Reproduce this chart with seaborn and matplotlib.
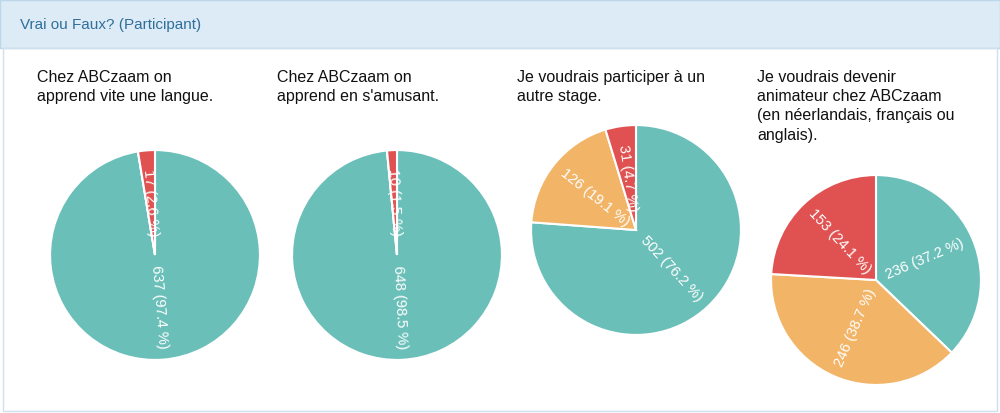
import matplotlib.pyplot as plt
import matplotlib.patches as mpatches
import seaborn as sns

sns.set_theme(style="white")
plt.rcParams['font.family'] = ['Liberation Sans', 'DejaVu Sans']

titles = [
    "Chez ABCzaam on\napprend vite une langue.",
    "Chez ABCzaam on\napprend en s'amusant.",
    "Je voudrais participer à un\nautre stage.",
    "Je voudrais devenir\nanimateur chez ABCzaam\n(en néerlandais, français ou\nanglais).",
]
vrai = [637, 648, 502, 236]
peut_etre = [0, 0, 126, 246]
faux = [17, 10, 31, 153]
pcts = [
    [97.4, 0, 2.6],
    [98.5, 0, 1.5],
    [76.2, 19.1, 4.7],
    [37.2, 38.7, 24.1],
]
colors = ["#6bbfb9", "#f2b466", "#e05252"]

W, H = 1000, 413
fig = plt.figure(figsize=(W / 100, H / 100), dpi=100)
fig.patch.set_facecolor("white")

# header band
fig.patches.append(mpatches.Rectangle((0, 1 - 48 / H), 1, 48 / H, transform=fig.transFigure,
                                      facecolor="#dcebf6", edgecolor="#bcd6ea", lw=1))
fig.text(20 / W, 1 - 25 / H, "Vrai ou Faux? (Participant)", color="#2f6f9a",
         fontsize=11, va="center")
fig.patches.append(mpatches.Rectangle((3 / W, 2 / H), 994 / W, 1 - 50 / H, transform=fig.transFigure,
                                      facecolor="none", edgecolor="#cfe0ee", lw=1))

title_x = [37, 277, 517, 757]
centers = [(155, 255), (397, 255), (636, 230), (876, 280)]
r = 106

for i in range(4):
    fig.text(title_x[i] / W, 1 - 70 / H, titles[i], fontsize=11.5, va="top",
             color="#111111", linespacing=1.35)
    cx, cy = centers[i]
    ax = fig.add_axes([(cx - r) / W, 1 - (cy + r) / H, 2 * r / W, 2 * r / H])
    vals = [vrai[i], peut_etre[i], faux[i]]
    labels = [f"{v} ({p} %)" if v else "" for v, p in zip(vals, pcts[i])]
    wedges, texts = ax.pie(vals, colors=colors, startangle=90, counterclock=False,
                           labels=labels, labeldistance=0.5, rotatelabels=True,
                           wedgeprops=dict(edgecolor="white", linewidth=1.5),
                           textprops=dict(color="white", fontsize=10.5))
    for t in texts:
        t.set_ha("center")
        t.set_va("center")
    ax.set_xlim(-1.01, 1.01)
    ax.set_ylim(-1.01, 1.01)
    ax.set_aspect("equal")

fig.savefig("out.png", dpi=100)
